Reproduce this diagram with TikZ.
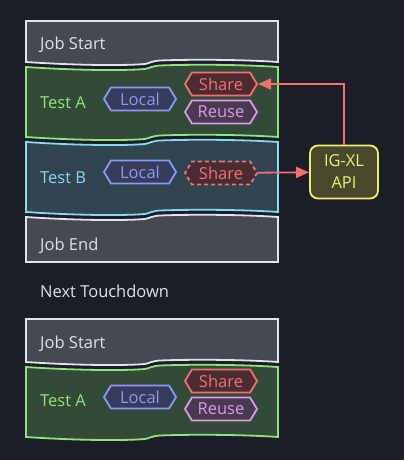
\documentclass[tikz,border=0pt]{standalone}
\usepackage{fontspec}
\setmainfont{Open Sans}
\usetikzlibrary{shapes.symbols,arrows.meta}
\definecolor{bgcol}{HTML}{1B1E26}
\definecolor{jobline}{HTML}{E2E2EA}
\definecolor{jobfill}{HTML}{464952}
\definecolor{aline}{HTML}{8EE57C}
\definecolor{afill}{HTML}{334A38}
\definecolor{bline}{HTML}{84DAF2}
\definecolor{bfill}{HTML}{30454F}
\definecolor{locline}{HTML}{8A9AF2}
\definecolor{locfill}{HTML}{363C5C}
\definecolor{shline}{HTML}{F27070}
\definecolor{shfill}{HTML}{4A2C32}
\definecolor{reline}{HTML}{DB9AEA}
\definecolor{refill}{HTML}{4A3A50}
\definecolor{apiline}{HTML}{E8F26C}
\definecolor{apifill}{HTML}{48492C}
% wavy edge, left to right and right to left, shifted down by #1
\newcommand{\waveLR}[1]{(26,{62+#1}) .. controls (70,{65+#1}) and (120,{66+#1}) .. (145,{64+#1}) .. controls (150,{63+#1}) and (152,{61+#1}) .. (160,{60.5+#1}) .. controls (200,{59+#1}) and (250,{60+#1}) .. (278,{62+#1})}
\newcommand{\waveRL}[1]{(278,{62+#1}) .. controls (250,{60+#1}) and (200,{59+#1}) .. (160,{60.5+#1}) .. controls (152,{61+#1}) and (150,{63+#1}) .. (145,{64+#1}) .. controls (120,{66+#1}) and (70,{65+#1}) .. (26,{62+#1})}
\tikzset{
  lbl/.style={anchor=base west,inner sep=0pt,font=\fontsize{16.5}{19}\selectfont},
  hexa/.style={shape=signal,signal to=east and west,signal pointer angle=118,
    minimum width=72pt,minimum height=23pt,inner sep=0.5pt,line width=1.8pt,
    font=\fontsize{16.5}{19}\selectfont},
  local/.style={hexa,draw=locline,fill=locfill,text=locline},
  share/.style={hexa,draw=shline,fill=shfill,text=shline},
  reuse/.style={hexa,draw=reline,fill=refill,text=reline},
  jobbox/.style={draw=jobline,fill=jobfill,line width=1.8pt},
  abox/.style={draw=aline,fill=afill,line width=1.8pt},
  bbox/.style={draw=bline,fill=bfill,line width=1.8pt},
  link/.style={draw=shline,line width=1.8pt,-{Triangle[length=13pt,width=11pt]}}
}
\begin{document}
\begin{tikzpicture}[x=1pt,y=-1pt]
  \fill[bgcol] (0,0) rectangle (404,460);
  \useasboundingbox (0,0) rectangle (404,460);
  % first touchdown
  \draw[jobbox] (26,21) -- (278,21) -- \waveRL{0} -- cycle;
  \draw[abox] \waveLR{5} -- \waveRL{75} -- cycle;
  \draw[bbox] \waveLR{80} -- \waveRL{150} -- cycle;
  \draw[jobbox] \waveLR{155} -- (278,262) -- (26,262) -- cycle;
  \node[lbl,text=jobline] (start1) at (40,50) {Job Start};
  \node[lbl,text=aline] (testA1) at (40,108) {Test A};
  \node[local] (localA1) at (140,99) {Local};
  \node[share] (shareA1) at (221,84) {Share};
  \node[reuse] (reuseA1) at (221,112) {Reuse};
  \node[lbl,text=bline] (testB) at (40,183) {Test B};
  \node[local] (localB) at (140,172) {Local};
  \node[share,dashed,dash pattern=on 4pt off 3pt] (shareB) at (221,173) {Share};
  \node[lbl,text=jobline] (end1) at (40,250) {Job End};
  \node[draw=apiline,fill=apifill,text=apiline,line width=1.8pt,rounded corners=8pt,
    minimum width=68pt,minimum height=53pt,align=center,inner sep=0pt,
    font=\fontsize{16.5}{22}\selectfont] (api) at (344,172) {IG-XL\\API};
  \draw[link] (shareB) -- (api);
  \draw[link] (api.north) |- (shareA1.east);
  \node[lbl,text=jobline] (next) at (40,297) {Next Touchdown};
  % second touchdown
  \draw[jobbox] (26,319) -- (278,319) -- \waveRL{300} -- cycle;
  \draw[abox] \waveLR{305} -- \waveRL{375} -- cycle;
  \node[lbl,text=jobline] (start2) at (40,348) {Job Start};
  \node[lbl,text=aline] (testA2) at (40,406) {Test A};
  \node[local] (localA2) at (140,397) {Local};
  \node[share] (shareA2) at (221,381) {Share};
  \node[reuse] (reuseA2) at (221,409) {Reuse};
\end{tikzpicture}
\end{document}
